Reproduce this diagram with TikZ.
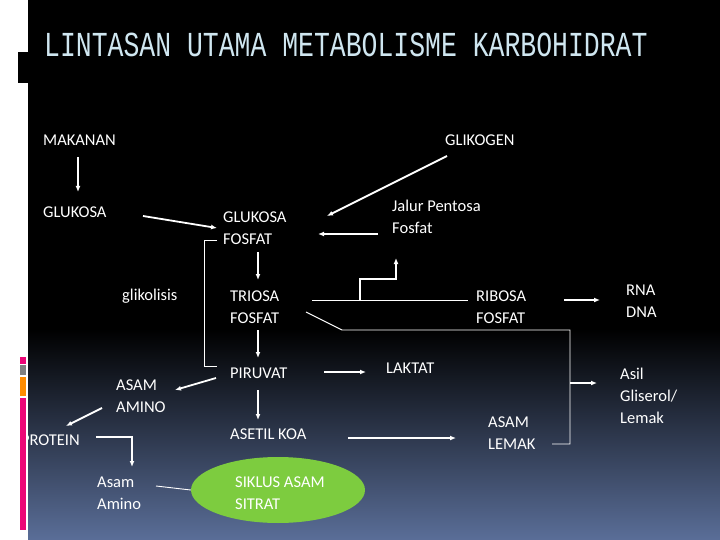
\documentclass[tikz,border=0pt]{standalone}
\usepackage{fontspec}
\setmainfont{Carlito}
\newfontfamily\titlefont{Liberation Mono}
\usetikzlibrary{arrows.meta,shapes.geometric}
\definecolor{titleblue}{HTML}{CFE6F0}
\definecolor{bgbot}{HTML}{5A6E98}
\definecolor{bgmid}{HTML}{1A2233}
\definecolor{leaf}{HTML}{7DCC3F}
\begin{document}
\begin{tikzpicture}[x=1pt,y=-1pt,
  lbl/.style={text=white,font=\fontsize{16.5}{22}\selectfont,anchor=west,align=left,inner sep=0pt},
  arr/.style={white,line width=1.8pt,-{Latex[length=6pt,width=5pt]}},
  thin/.style={white,line width=0.9pt}]
\useasboundingbox (0,0) rectangle (720,540);
\fill[black] (28,0) rectangle (720,330);
\shade[top color=black,middle color=bgmid,bottom color=bgbot] (28,329) rectangle (720,540);
% title
\node[anchor=west,text=titleblue,inner sep=0pt,font=\titlefont\fontsize{27}{27}\selectfont] (title) at (44,45) {\scalebox{0.98}[1.3]{LINTASAN UTAMA METABOLISME KARBOHIDRAT}};
% nodes
\node[lbl] (mak) at (43,140) {MAKANAN};
\node[lbl] (gli) at (445,140) {GLIKOGEN};
\node[lbl] (glu) at (43,212) {GLUKOSA};
\node[lbl] (gf) at (223,228) {GLUKOSA\\FOSFAT};
\node[lbl] (jpf) at (392,217) {Jalur Pentosa\\Fosfat};
\node[lbl] (glik) at (122,296) {glikolisis};
\node[lbl] (tf) at (230,307) {TRIOSA\\FOSFAT};
\node[lbl] (rf) at (476,307) {RIBOSA\\FOSFAT};
\node[lbl] (rna) at (626,301) {RNA\\DNA};
\node[lbl] (asil) at (620,396) {Asil\\Gliserol/\\Lemak};
\node[lbl] (pir) at (230,373) {PIRUVAT};
\node[lbl] (lak) at (386,368) {LAKTAT};
\node[lbl] (aa) at (116,396) {ASAM\\AMINO};
\node[lbl,anchor=east] (pro) at (80,440) {PROTEIN};
\node[lbl] (ak) at (230,434) {ASETIL KOA};
\node[lbl] (al) at (488,433) {ASAM\\LEMAK};
\node[lbl] (am) at (97,493) {Asam\\Amino};
\node[ellipse,fill=leaf,minimum width=174pt,minimum height=66pt,inner sep=0pt] (sas) at (278,490) {};
\node[lbl] (sast) at (235,493) {SIKLUS ASAM\\SITRAT};
% connectors
\coordinate (c1) at (204,240); \coordinate (c2) at (204,366);
\draw[thin] (217,240) -- (c1) -- (c2) -- (217,366);
\draw[arr] (78,157) -- (78,192);
\draw[arr] (143,216) -- (217,228);
\draw[arr] (447,156) -- (327,216);
\draw[arr] (378,234) -- (318,234);
\draw[arr] (258,252) -- (258,280);
\draw[arr] (258,330) -- (258,358);
\draw[arr] (258,390) -- (258,420);
\coordinate (br) at (360,300);
\draw[thin] (312,300) -- (468,300);
\draw[white,line width=1.4pt,-{Latex[length=6pt,width=5pt]}] (br) -- (360,279) -- (396,279) -- (396,258);
\coordinate (d1) at (342,330); \coordinate (d2) at (570,330); \coordinate (d3) at (570,444);
\draw[thin] (306,312) -- (d1) -- (d2) -- (d3) -- (552,444);
\draw[arr] (570,383) -- (597,383);
\draw[arr] (564,300) -- (600,300);
\draw[arr] (324,372) -- (366,372);
\draw[arr] (216,378) -- (175,390);
\draw[arr] (102,408) -- (66,426);
\draw[arr] (96,437) -- (132,437) -- (132,467);
\draw[thin] (156,486) -- (sas.west);
\draw[arr] (348,438) -- (456,438);
% left decorations
\fill[white] (0,0) rectangle (28,540);
\fill[black] (18,52) rectangle (28,83);
\fill[magenta!80!red] (20,357) rectangle (26,364);
\fill[gray] (20,365) rectangle (26,375);
\fill[orange!90!yellow] (20,377) rectangle (26,396);
\fill[magenta!80!red] (20,398) rectangle (26,530);
\end{tikzpicture}
\end{document}
